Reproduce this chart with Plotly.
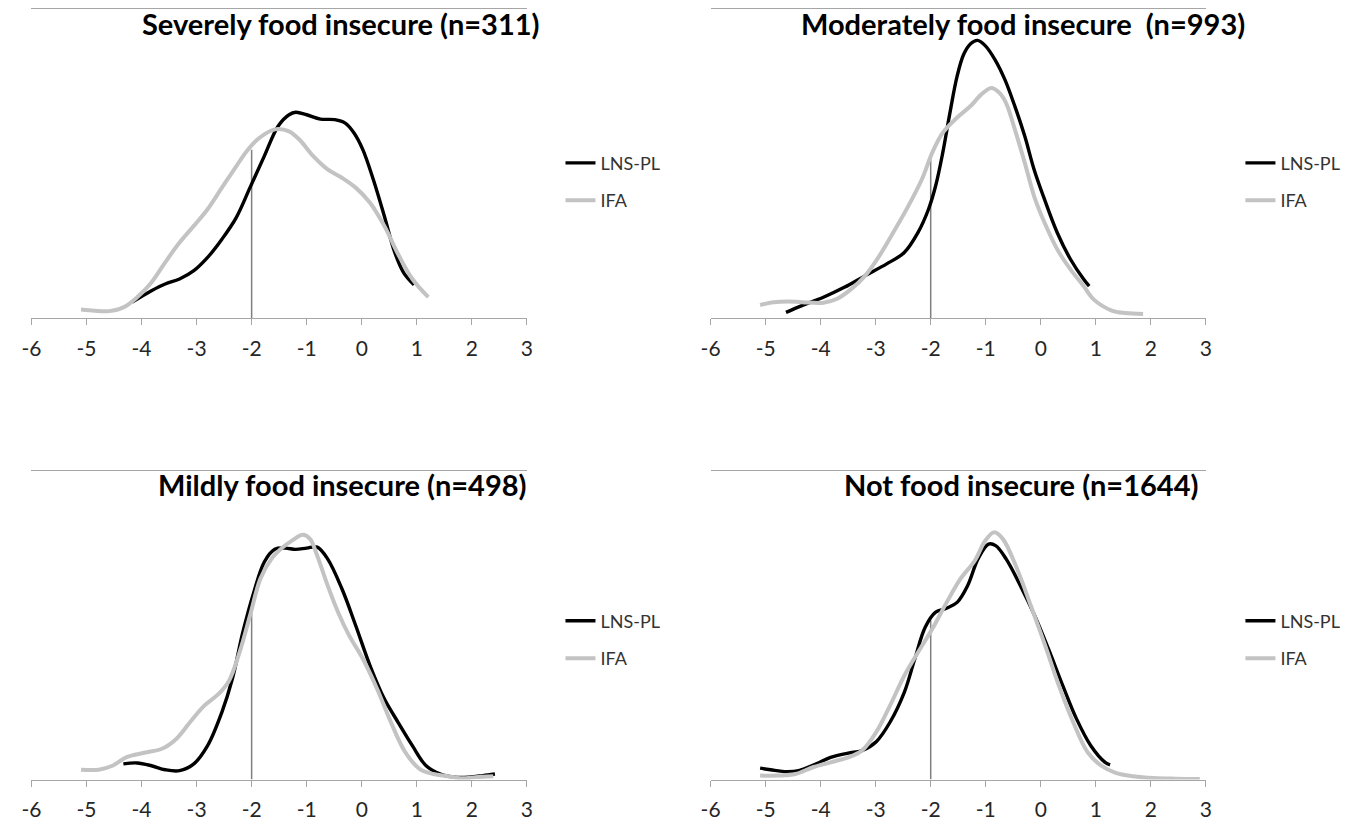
import plotly.graph_objects as go

# ---------------- data ----------------
titles = ["Severely food insecure (n=311)", "Moderately food insecure&nbsp; (n=993)",
          "Mildly food insecure (n=498)", "Not food insecure (n=1644)"]
series_names = ["LNS-PL", "IFA"]
x_ticks = [-6, -5, -4, -3, -2, -1, 0, 1, 2, 3]
cutoff_x = -2
cutoff_top = [54.6, 52.5, 58.7, 51.6]

# Severely food insecure
sev_lns_x = [-4.17, -3.82, -3.57, -3.31, -3.05, -2.80, -2.54, -2.28, -2.03, -1.77, -1.52, -1.32, -1.20,
             -1.00, -0.75, -0.49, -0.30, -0.14, 0.02, 0.21, 0.41, 0.60, 0.76, 0.95]
sev_lns_y = [5.2, 8.9, 11.1, 12.7, 15.4, 19.7, 25.6, 32.6, 42.3, 52.5, 62.2, 65.9, 66.7,
             65.9, 64.5, 64.3, 63.2, 60.0, 54.6, 44.9, 33.1, 21.3, 14.8, 10.8]
sev_ifa_x = [-5.10, -4.85, -4.59, -4.33, -4.08, -3.82, -3.57, -3.31, -3.05, -2.80, -2.54, -2.28, -2.09,
             -1.90, -1.64, -1.52, -1.32, -1.13, -0.88, -0.62, -0.36, -0.11, 0.15, 0.41, 0.66, 0.92, 1.21]
sev_ifa_y = [2.8, 2.4, 2.3, 3.5, 6.8, 11.6, 18.1, 24.5, 29.9, 35.3, 42.3, 49.2, 54.1,
             57.8, 60.8, 61.3, 60.5, 57.8, 52.5, 48.2, 45.5, 42.3, 37.4, 29.9, 20.8, 12.7, 6.8]

# Moderately food insecure
mod_lns_x = [-4.63, -4.34, -3.95, -3.57, -3.19, -2.80, -2.48, -2.23, -2.04, -1.91, -1.78, -1.65, -1.52,
             -1.40, -1.27, -1.15, -1.01, -0.83, -0.65, -0.47, -0.29, -0.12, 0.07, 0.30, 0.54, 0.78, 0.88]
mod_lns_y = [1.9, 4.1, 6.8, 10.0, 13.8, 17.6, 21.3, 27.8, 35.3, 42.9, 53.7, 66.6, 78.4,
             85.5, 89.0, 90.0, 88.3, 83.7, 77.2, 68.6, 58.9, 48.1, 38.4, 27.7, 19.1, 12.6, 10.4]
mod_ifa_x = [-5.10, -4.85, -4.59, -4.34, -3.95, -3.70, -3.44, -3.19, -2.93, -2.68, -2.42, -2.16, -1.97,
             -1.78, -1.52, -1.27, -1.08, -0.90, -0.75, -0.63, -0.47, -0.29, -0.12, 0.07, 0.30, 0.54,
             0.78, 0.96, 1.29, 1.54, 1.86]
mod_ifa_y = [4.3, 5.2, 5.4, 5.2, 5.0, 6.3, 9.5, 13.8, 20.3, 27.8, 35.9, 45.0, 53.7,
             60.1, 65.0, 68.8, 72.5, 74.6, 73.0, 69.7, 61.1, 50.3, 39.5, 30.9, 22.3, 15.8,
             10.4, 6.1, 2.5, 1.7, 1.4]

# Mildly food insecure
mil_lns_x = [-4.33, -4.08, -3.82, -3.57, -3.31, -3.05, -2.80, -2.54, -2.35, -2.16, -1.96, -1.77, -1.58,
             -1.39, -1.20, -1.00, -0.81, -0.62, -0.36, -0.11, 0.15, 0.41, 0.66, 0.92, 1.17, 1.43,
             1.69, 1.94, 2.20, 2.42]
mil_lns_y = [5.1, 5.4, 4.5, 3.2, 2.9, 5.1, 11.0, 21.9, 32.7, 47.8, 60.8, 70.6, 74.7,
             75.1, 74.7, 75.1, 75.4, 71.6, 61.9, 50.0, 37.0, 26.2, 18.6, 11.0, 4.5, 1.8,
             0.8, 0.8, 1.3, 1.8]
mil_ifa_x = [-5.10, -4.78, -4.53, -4.27, -3.95, -3.63, -3.37, -3.12, -2.86, -2.60, -2.41, -2.22, -2.03,
             -1.84, -1.64, -1.45, -1.26, -1.07, -0.94, -0.81, -0.62, -0.43, -0.23, 0.02, 0.28, 0.53,
             0.79, 1.05, 1.30, 1.56, 1.82, 2.07, 2.39]
mil_ifa_y = [3.2, 3.2, 4.5, 7.3, 8.7, 10.0, 13.2, 18.6, 24.0, 27.8, 32.1, 41.3, 53.2,
             65.2, 71.6, 75.1, 77.6, 79.4, 78.1, 72.7, 63.0, 54.3, 46.8, 39.2, 29.4, 18.6,
             8.9, 3.5, 1.8, 1.1, 0.4, 0.8, 1.1]

# Not food insecure
not_lns_x = [-5.10, -4.91, -4.66, -4.40, -4.08, -3.82, -3.50, -3.25, -2.99, -2.74, -2.48, -2.29, -2.10,
             -1.91, -1.71, -1.52, -1.33, -1.14, -0.95, -0.82, -0.63, -0.37, -0.11, 0.14, 0.40, 0.65,
             0.91, 1.17, 1.26]
not_lns_y = [3.7, 3.2, 2.6, 2.9, 5.1, 7.2, 8.6, 9.4, 12.3, 18.6, 28.3, 39.1, 49.4,
             54.3, 55.6, 57.5, 62.9, 71.6, 76.4, 75.9, 71.6, 62.9, 53.2, 42.4, 30.5, 19.7,
             11.0, 5.6, 4.8]
not_ifa_x = [-5.10, -4.78, -4.46, -4.14, -3.82, -3.50, -3.25, -2.99, -2.74, -2.48, -2.23, -1.97, -1.71,
             -1.46, -1.20, -1.01, -0.85, -0.69, -0.43, -0.18, 0.08, 0.33, 0.59, 0.85, 1.10, 1.36,
             1.68, 2.06, 2.45, 2.89]
not_ifa_y = [1.3, 1.3, 1.8, 4.0, 5.6, 7.2, 9.4, 15.4, 24.0, 33.7, 41.3, 48.9, 57.5,
             65.1, 71.0, 77.5, 80.2, 78.1, 68.3, 56.4, 43.5, 30.5, 18.6, 8.9, 4.5, 2.2,
             1.1, 0.5, 0.3, 0.2]

panels = [
    (sev_lns_x, sev_lns_y, sev_ifa_x, sev_ifa_y),
    (mod_lns_x, mod_lns_y, mod_ifa_x, mod_ifa_y),
    (mil_lns_x, mil_lns_y, mil_ifa_x, mil_ifa_y),
    (not_lns_x, not_lns_y, not_ifa_x, not_ifa_y),
]

# ---------------- layout geometry ----------------
W, H = 1367, 821
x_domains = [[21.7 / W, 523 / W], [708.9 / W, 1210 / W]]
y_domains = [[1 - 319 / H, 1 - 9.5 / H], [1 - 781.5 / H, 1 - 472.5 / H]]
title_pos = [(335, 24), (1025, 24), (336, 486), (1023, 486)]
legend_pos = [(557, 145), (1245, 145), (557, 604), (1245, 604)]

BLACK = "#000000"
GRAY = "#c3c3c3"
FONT = "Lato, Open Sans, sans-serif"

fig = go.Figure()
layout = dict(
    width=W, height=H,
    margin=dict(l=0, r=0, t=0, b=0),
    paper_bgcolor="white", plot_bgcolor="white",
    showlegend=True,
    annotations=[],
)

for i, (lx, ly, gx, gy) in enumerate(panels):
    col, row = i % 2, i // 2
    sfx = "" if i == 0 else str(i + 1)
    xa, ya = "x" + sfx, "y" + sfx
    leg = "legend" + sfx
    fig.add_trace(go.Scatter(x=[cutoff_x, cutoff_x], y=[0, cutoff_top[i]], mode="lines",
                             line=dict(color="#7f7f7f", width=1.5), xaxis=xa, yaxis=ya,
                             showlegend=False, hoverinfo="skip"))
    fig.add_trace(go.Scatter(x=lx, y=ly, mode="lines", name=series_names[0],
                             line=dict(color=BLACK, width=3.4, shape="spline", smoothing=1.0),
                             xaxis=xa, yaxis=ya, legend=leg, legendgroup=f"a{i}"))
    fig.add_trace(go.Scatter(x=gx, y=gy, mode="lines", name=series_names[1],
                             line=dict(color=GRAY, width=4, shape="spline", smoothing=1.0),
                             xaxis=xa, yaxis=ya, legend=leg, legendgroup=f"b{i}"))
    layout["xaxis" + sfx] = dict(
        domain=x_domains[col], anchor=ya, range=[-6, 3], tickvals=x_ticks,
        ticktext=[str(v) for v in x_ticks],
        showline=True, mirror=True, linecolor="#a6a6a6", linewidth=1.3,
        ticks="outside", ticklen=6, tickcolor="#a6a6a6", tickwidth=1.3,
        showgrid=False, zeroline=False, fixedrange=True,
        tickfont=dict(family=FONT, size=21, color="#262626"), ticklabelstandoff=5,
    )
    layout["yaxis" + sfx] = dict(
        domain=y_domains[row], anchor=xa, range=[0, 100], visible=False,
        showgrid=False, zeroline=False, fixedrange=True,
    )
    lxp, lyp = legend_pos[i]
    layout[leg] = dict(
        x=lxp / W, y=1 - lyp / H, xanchor="left", yanchor="top",
        xref="paper", yref="paper",
        font=dict(family=FONT, size=18, color="#333333"),
        bgcolor="rgba(0,0,0,0)", tracegroupgap=11, traceorder="grouped",
        itemclick=False, itemdoubleclick=False,
    )
    tx, ty = title_pos[i]
    layout["annotations"].append(dict(
        text="<b>" + titles[i] + "</b>", x=tx / W, y=1 - ty / H, xref="paper", yref="paper",
        xanchor="center", yanchor="middle", showarrow=False,
        font=dict(family=FONT, size=29, color="#000000"),
    ))

fig.update_layout(**layout)
fig.write_html("out.html")
